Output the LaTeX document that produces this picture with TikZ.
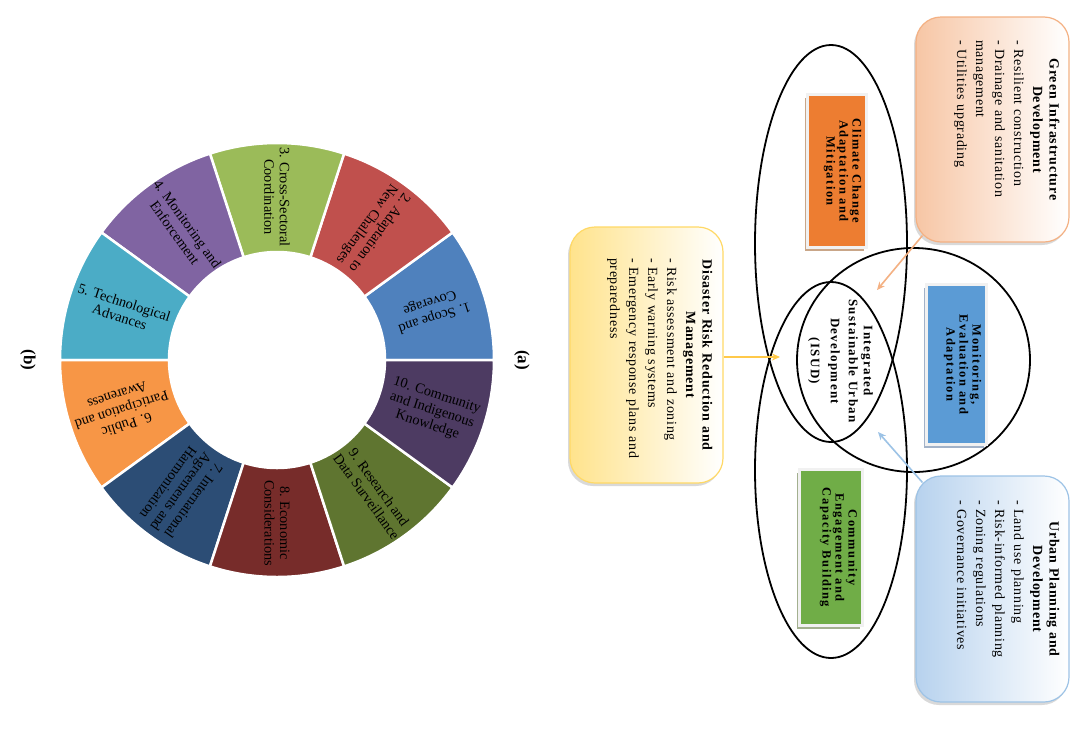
\documentclass[tikz,border=0pt]{standalone}
\usepackage{fontspec}
\setmainfont{Liberation Serif}
\usetikzlibrary{arrows.meta,shadows}

\definecolor{segA}{HTML}{4F81BD}
\definecolor{segB}{HTML}{C0504D}
\definecolor{segC}{HTML}{9BBB59}
\definecolor{segD}{HTML}{8064A2}
\definecolor{segE}{HTML}{4BACC6}
\definecolor{segF}{HTML}{F79646}
\definecolor{segG}{HTML}{2C4D75}
\definecolor{segH}{HTML}{772C2A}
\definecolor{segI}{HTML}{5F7530}
\definecolor{segJ}{HTML}{4D3B62}
\definecolor{peachL}{HTML}{F7C6A5}
\definecolor{peachB}{HTML}{F4B183}
\definecolor{blueL}{HTML}{B7D2EE}
\definecolor{blueB}{HTML}{9DC3E6}
\definecolor{yelL}{HTML}{FFE38C}
\definecolor{yelB}{HTML}{FFD966}
\definecolor{yelA}{HTML}{FFC94A}
\definecolor{ccOrange}{HTML}{ED7D31}
\definecolor{ccShadow}{HTML}{C9A688}
\definecolor{meBlue}{HTML}{5B9BD5}
\definecolor{meShadow}{HTML}{A2B2C8}
\definecolor{ceGreen}{HTML}{70AD47}
\definecolor{ceShadow}{HTML}{A3B08F}
\definecolor{frameC}{HTML}{F1F1F1}

\newcommand\btitle[1]{{\centering\bfseries\fontsize{14}{16.5}\selectfont\addfontfeatures{LetterSpace=6}#1\par}}
\newcommand\bxl[1]{\mbox{#1}}

\tikzset{
  seglabel/.style={align=center, inner sep=0pt, font=\fontsize{14.3}{15.5}\selectfont},
  bigbox/.style={rectangle, rounded corners=25pt, line width=1.2pt, minimum width=153pt, inner sep=0pt,
    drop shadow={shadow xshift=-2pt, shadow yshift=-3pt, fill=black, opacity=0.15}},
  boxtext/.style={rotate=-90, anchor=north, inner sep=0pt, align=left,
    font=\fontsize{14}{19}\selectfont\addfontfeatures{LetterSpace=5}},
  innerbox/.style={rectangle, draw=frameC, line width=3pt, inner sep=0pt},
  innertext/.style={rotate=-90, align=center, inner sep=0pt,
    font=\bfseries\fontsize{12.5}{13}\selectfont\addfontfeatures{LetterSpace=12}},
  venn/.style={draw=black, line width=1.8pt},
  feed/.style={line width=1.6pt, -{Stealth[length=8pt, width=7pt]}},
  panel/.style={rotate=-90, inner sep=0pt, font=\bfseries\fontsize{17}{17}\selectfont}
}

\begin{document}
\begin{tikzpicture}[x=1pt,y=1pt]
\useasboundingbox (0,0) rectangle (1089,-737);
\fill[white] (0,0) rectangle (1089,-737);

% ---------- (b) donut ----------
\coordinate (dc) at (277,-360);
\foreach \i/\col in {1/segA,2/segB,3/segC,4/segD,5/segE,6/segF,7/segG,8/segH,9/segI,10/segJ}{
  \pgfmathsetmacro\sa{(\i-1)*36}
  \pgfmathsetmacro\sb{\i*36}
  \filldraw[fill=\col, draw=white, line width=2.5pt]
    ([shift={(\sa:217)}]dc) arc[start angle=\sa, end angle=\sb, radius=217]
    -- ([shift={(\sb:108)}]dc) arc[start angle=\sb, end angle=\sa, radius=108] -- cycle;
}
\node[seglabel, rotate=198] (s1) at ([shift={(18:163)}]dc) {1. Scope and\\Coverage};
\node[seglabel, rotate=234] (s2) at ([shift={(54:163)}]dc) {2. Adaptation to\\New Challenges};
\node[seglabel, rotate=270] (s3) at ([shift={(90:163)}]dc) {3. Cross-Sectoral\\Coordination};
\node[seglabel, rotate=306] (s4) at ([shift={(126:163)}]dc) {4. Monitoring and\\Enforcement};
\node[seglabel, rotate=342] (s5) at ([shift={(162:163)}]dc) {5. Technological\\Advances};
\node[seglabel, rotate=198] (s6) at ([shift={(198:163)}]dc) {6. Public\\Participation and\\Awareness};
\node[seglabel, rotate=234] (s7) at ([shift={(234:163)}]dc) {7. International\\Agreements and\\Harmonization};
\node[seglabel, rotate=270] (s8) at ([shift={(270:163)}]dc) {8. Economic\\Considerations};
\node[seglabel, rotate=306] (s9) at ([shift={(306:163)}]dc) {9. Research and\\Data Surveillance};
\node[seglabel, rotate=342] (s10) at ([shift={(342:163)}]dc) {10. Community\\and Indigenous\\Knowledge};

\node[panel] (pb) at (28,-360) {(b)};
\node[panel] (pa) at (522,-360) {(a)};

% ---------- (a) Venn ----------
\draw[venn] (831,-243.5) ellipse [x radius=76, y radius=198.5];
\draw[venn] (831,-470) ellipse [x radius=76, y radius=188];
\draw[venn] (913.5,-360) ellipse [x radius=116.5, y radius=112];

% inner coloured boxes
\node[innerbox, fill=ccOrange, minimum width=59pt, minimum height=153pt,
  general shadow={fill=ccShadow, shadow xshift=-3pt, shadow yshift=-3pt}] (cc) at (837,-171) {};
\node[innertext] (cctxt) at ([xshift=5.5pt]cc.center) {Climate Change\\Adaptation and\\Mitigation};

\node[innerbox, fill=meBlue, minimum width=60pt, minimum height=160pt,
  general shadow={fill=meShadow, shadow xshift=-3pt, shadow yshift=-3pt}] (me) at (956.5,-364.5) {};
\node[innertext] (metxt) at ([xshift=6pt]me.center) {Monitoring,\\Evaluation and\\Adaptation};

\node[innerbox, fill=ceGreen, minimum width=63pt, minimum height=156pt,
  general shadow={fill=ceShadow, shadow xshift=-3pt, shadow yshift=-3pt}] (ce) at (831,-547.5) {};
\node[innertext] (cetxt) at ([xshift=7.5pt]ce.center) {Community\\Engagement and\\Capacity Building};

% centre text
\node[rotate=-90, align=center, inner sep=0pt,
  font=\bfseries\fontsize{13}{15}\selectfont\addfontfeatures{LetterSpace=10}] (isud) at (840.5,-361)
  {Integrated\\Sustainable Urban\\[3pt]Development\\[5pt](ISUD)};

% outer rounded boxes
\node[bigbox, draw=peachB, left color=peachL, right color=white, minimum height=225pt] (gbox) at (992.5,-129.5) {};
\node[boxtext, text width=179pt] (gtxt) at ([xshift=-10pt]gbox.east)
  {\btitle{\bxl{Green Infrastructure}\\\bxl{Development}}\bxl{- Resilient construction}\\\bxl{- Drainage and sanitation}\\\bxl{management}\\\bxl{- Utilities upgrading}};

\node[bigbox, draw=blueB, left color=blueL, right color=white, minimum height=226pt] (ubox) at (992.5,-589) {};
\node[boxtext, text width=178pt] (utxt) at ([xshift=-10pt]ubox.east)
  {\btitle{\bxl{Urban Planning and}\\\bxl{Development}}\bxl{- Land use planning}\\\bxl{- Risk-informed planning}\\\bxl{- Zoning regulations}\\\bxl{- Governance initiatives}};

\node[bigbox, draw=yelB, left color=yelL, right color=white, minimum height=256pt] (dbox) at (646.5,-355) {};
\node[boxtext, text width=194pt] (dtxt) at ([xshift=-11pt]dbox.east)
  {\btitle{\bxl{Disaster Risk Reduction and}\\\bxl{Management}}\bxl{- Risk assessment and zoning}\\\bxl{- Early warning systems}\\\bxl{- Emergency response plans and}\\\bxl{preparedness}};

% arrows into the centre
\coordinate (tipG) at (877,-290);
\coordinate (tipD) at (780,-357);
\coordinate (tipU) at (878,-432);
\draw[feed, draw=peachB, fill=peachB] ([shift={(7pt,7pt)}]gbox.south west) -- (tipG);
\draw[feed, draw=yelA, fill=yelA] (dbox.east |- tipD) -- (tipD);
\draw[feed, draw=blueB, fill=blueB] ([shift={(7pt,-7pt)}]ubox.north west) -- (tipU);
\end{tikzpicture}
\end{document}
